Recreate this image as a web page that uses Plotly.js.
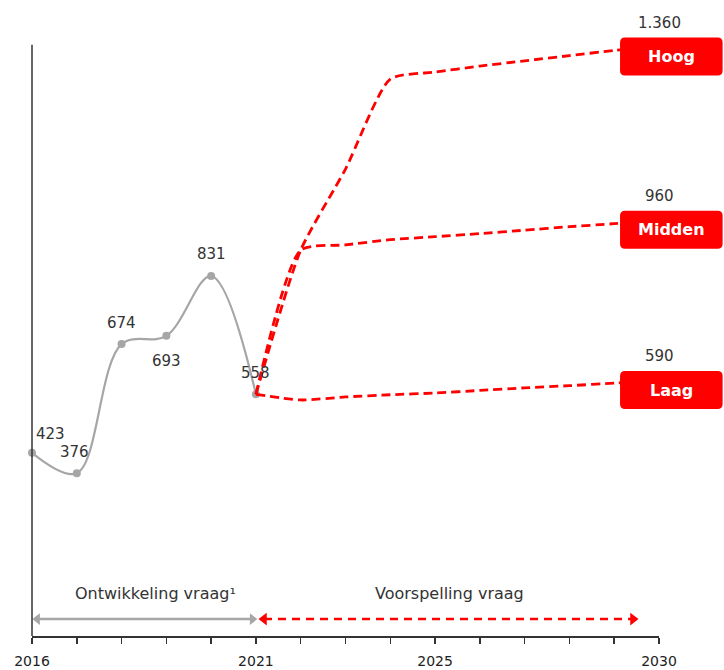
<!DOCTYPE html>
<html>
<head>
<meta charset="utf-8">
<script src="https://cdn.plot.ly/plotly-3.0.1.min.js"></script>
<style>html,body{margin:0;padding:0;background:#fff;}#chart{width:724px;height:670px;}</style>
</head>
<body>
<div id="chart"></div>
<script>
// ---- data ----
const histYears = [2016, 2017, 2018, 2019, 2020, 2021];
const histValues = [423, 376, 674, 693, 831, 558];
const histLabels = ['423', '376', '674', '693', '831', '558'];

const forecastYears = [2021, 2022, 2023, 2024, 2025, 2026, 2027, 2028, 2029, 2030];
const hoog   = [558, 891, 1078, 1286, 1302, 1316, 1328, 1340, 1352, 1360];
const midden = [558, 891, 903, 915, 922, 929, 937, 945, 952, 960];
const laag   = [558, 545, 552, 557, 561, 567, 573, 578, 584, 590];

const scenarioNames = ['Hoog', 'Midden', 'Laag'];
const scenarioEndLabels = ['1.360', '960', '590'];

const tickYears = [2016, 2017, 2018, 2019, 2020, 2021, 2022, 2023, 2024, 2025, 2026, 2027, 2028, 2029, 2030];
const labeledYears = [2016, 2021, 2025, 2030];

const periodLabels = ['Ontwikkeling vraag¹', 'Voorspelling vraag'];

// ---- style / layout constants ----
const RED = '#ff0000';
const GREY = '#a6a6a6';
const TXT = '#333333';
const FONT = 'DejaVu Sans, Verdana, sans-serif';
const X0 = 2016, X1 = 2030, Y0 = 0, Y1 = 1420;
const xp = v => (v - X0) / (X1 - X0);
const yp = v => (v - Y0) / (Y1 - Y0);

// label offsets (pixels) for the historic points
const histLabelShift = [[18, 19], [-2, 21], [0, 21], [0, -25], [0, 22], [0, 21]];

const traces = [];
traces.push({
  x: histYears, y: histValues, type: 'scatter', mode: 'lines+markers',
  line: {color: GREY, width: 2.2, shape: 'spline', smoothing: 1},
  marker: {color: GREY, size: 8}, cliponaxis: false, hoverinfo: 'skip'
});
const scen = [hoog, midden, laag];
scen.forEach((s, i) => {
  traces.push({
    x: forecastYears, y: s, type: 'scatter', mode: 'lines', name: scenarioNames[i],
    line: {color: RED, width: 2.8, dash: '9px,5px', shape: 'spline', smoothing: 0.6},
    hoverinfo: 'skip'
  });
});

// period arrows
const arrowY = 39;
const greyArrowX = [2016.12, 2020.92];
const redArrowX = [2021.18, 2029.42];
traces.push({
  x: greyArrowX, y: [arrowY, arrowY], type: 'scatter', mode: 'lines+markers',
  line: {color: GREY, width: 2.5},
  marker: {symbol: ['triangle-left', 'triangle-right'], size: 10, color: GREY},
  cliponaxis: false, hoverinfo: 'skip'
});
traces.push({
  x: redArrowX, y: [arrowY, arrowY], type: 'scatter', mode: 'lines+markers',
  line: {color: RED, width: 2.5, dash: '8px,6px'},
  marker: {symbol: ['triangle-left', 'triangle-right'], size: 11, color: RED},
  cliponaxis: false, hoverinfo: 'skip'
});

const shapes = [];
const annotations = [];

// historic data labels
histYears.forEach((yr, i) => {
  annotations.push({xref: 'x', yref: 'y', x: yr, y: histValues[i], text: histLabels[i],
    showarrow: false, xshift: histLabelShift[i][0], yshift: histLabelShift[i][1],
    font: {family: FONT, size: 15, color: TXT}, xanchor: 'center', yanchor: 'middle'});
});

// y axis line
shapes.push({type: 'line', xref: 'paper', yref: 'paper', x0: 0, x1: 0, y0: 0, y1: yp(1365),
  line: {color: TXT, width: 1.5}});

// scenario boxes
const boxX0 = 2029.13, boxX1 = 2031.42;
const boxOffset = 22, boxHalf = 44;
const rX = 5 / 627, rY = 5 / 615;
scen.forEach((s, i) => {
  const end = s[s.length - 1];
  const cy = end - boxOffset;
  const x0 = xp(boxX0), x1 = xp(boxX1);
  const y0 = yp(cy - boxHalf), y1 = yp(cy + boxHalf);
  const path = `M ${x0 + rX} ${y0} L ${x1 - rX} ${y0} Q ${x1} ${y0} ${x1} ${y0 + rY} ` +
    `L ${x1} ${y1 - rY} Q ${x1} ${y1} ${x1 - rX} ${y1} L ${x0 + rX} ${y1} Q ${x0} ${y1} ${x0} ${y1 - rY} ` +
    `L ${x0} ${y0 + rY} Q ${x0} ${y0} ${x0 + rX} ${y0} Z`;
  shapes.push({type: 'path', xref: 'paper', yref: 'paper', path: path,
    fillcolor: RED, line: {width: 0}, layer: 'above'});
  annotations.push({xref: 'paper', yref: 'paper', x: (x0 + x1) / 2, y: yp(cy),
    text: '<b>' + scenarioNames[i] + '</b>', showarrow: false,
    font: {family: FONT, size: 16, color: '#ffffff'}, xanchor: 'center', yanchor: 'middle'});
  annotations.push({xref: 'x', yref: 'y', x: forecastYears[forecastYears.length - 1], y: end,
    yshift: 24, text: scenarioEndLabels[i], showarrow: false,
    font: {family: FONT, size: 15, color: TXT}, xanchor: 'center', yanchor: 'middle'});
});

// period labels
const periodX = [2018.75, 2025.32];
periodLabels.forEach((t, i) => {
  annotations.push({xref: 'x', yref: 'y', x: periodX[i], y: 99, text: t, showarrow: false,
    font: {family: FONT, size: 16, color: TXT}, xanchor: 'center', yanchor: 'middle'});
});

const layout = {
  width: 724, height: 670,
  margin: {l: 32, r: 65, t: 21, b: 34, pad: 0},
  paper_bgcolor: '#ffffff', plot_bgcolor: '#ffffff',
  showlegend: false,
  xaxis: {
    range: [X0, X1], showgrid: false, zeroline: false, showline: true,
    linecolor: TXT, linewidth: 1.5, ticks: 'outside', ticklen: 6, tickwidth: 1.5, tickcolor: TXT,
    tickvals: tickYears,
    ticktext: tickYears.map(y => labeledYears.includes(y) ? String(y) : ''),
    tickfont: {family: FONT, size: 14, color: '#222'}, ticklabelstandoff: 6, fixedrange: true
  },
  yaxis: {range: [Y0, Y1], visible: false, showgrid: false, zeroline: false, fixedrange: true},
  shapes: shapes,
  annotations: annotations
};

Plotly.newPlot('chart', traces, layout, {displayModeBar: false, staticPlot: true});
</script>
</body>
</html>
